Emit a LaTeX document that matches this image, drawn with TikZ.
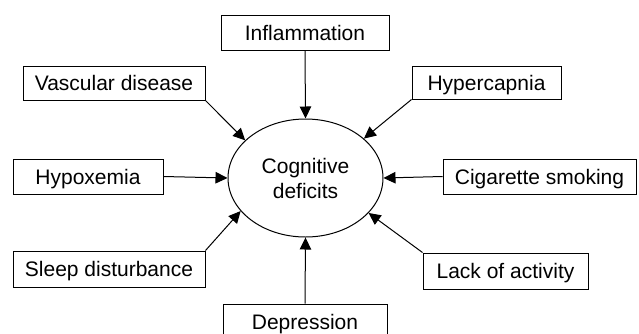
\documentclass[tikz,border=0pt]{standalone}
\usepackage{fontspec}
\setmainfont{Liberation Sans}
\usetikzlibrary{shapes.geometric,arrows.meta}
\begin{document}
\begin{tikzpicture}[x=1pt,y=-1pt,
  font=\fontsize{21}{25}\selectfont,
  factor/.style={draw,line width=1pt,inner sep=0pt,text height=15pt,text depth=0pt},
  center/.style={draw,line width=1pt,ellipse,inner sep=0pt,minimum width=155pt,minimum height=118pt,align=center},
  link/.style={line width=1pt,-{Triangle[length=12pt,width=11.5pt]}}]
\clip (0,0) rectangle (639,333);
\useasboundingbox (0,0) rectangle (639,333);
\node[center] (cog) at (305.5,178) {Cognitive\\deficits};
\node[factor,minimum width=168pt,minimum height=35pt] (infl) at (305,32.5) {Inflammation};
\node[factor,minimum width=182pt,minimum height=34pt] (vasc) at (114,83) {Vascular disease};
\node[factor,minimum width=149pt,minimum height=33pt] (hyper) at (486.5,82.5) {Hypercapnia};
\node[factor,minimum width=150pt,minimum height=35pt] (hypox) at (88,176.5) {Hypoxemia};
\node[factor,minimum width=193pt,minimum height=35pt] (cig) at (539.5,176.5) {Cigarette smoking};
\node[factor,minimum width=192pt,minimum height=36pt] (sleep) at (109,269) {Sleep disturbance};
\node[factor,minimum width=165pt,minimum height=36pt] (lack) at (505.5,271) {Lack of activity};
\node[factor,minimum width=164pt,minimum height=35pt] (depr) at (305,321.5) {Depression};
\draw[link] (infl.south) -- (cog.north);
\draw[link] (vasc.south east) -- (cog.148);
\draw[link] (hyper.south west) -- (cog.34.6);
\draw[link] (hypox.east) -- (cog.west);
\draw[link] (cig.west) -- (cog.east);
\draw[link] (sleep.north east) -- (cog.207.4);
\draw[link] (lack.north west) -- (cog.331);
\draw[link] (depr.north) -- (cog.south);
\end{tikzpicture}
\end{document}
